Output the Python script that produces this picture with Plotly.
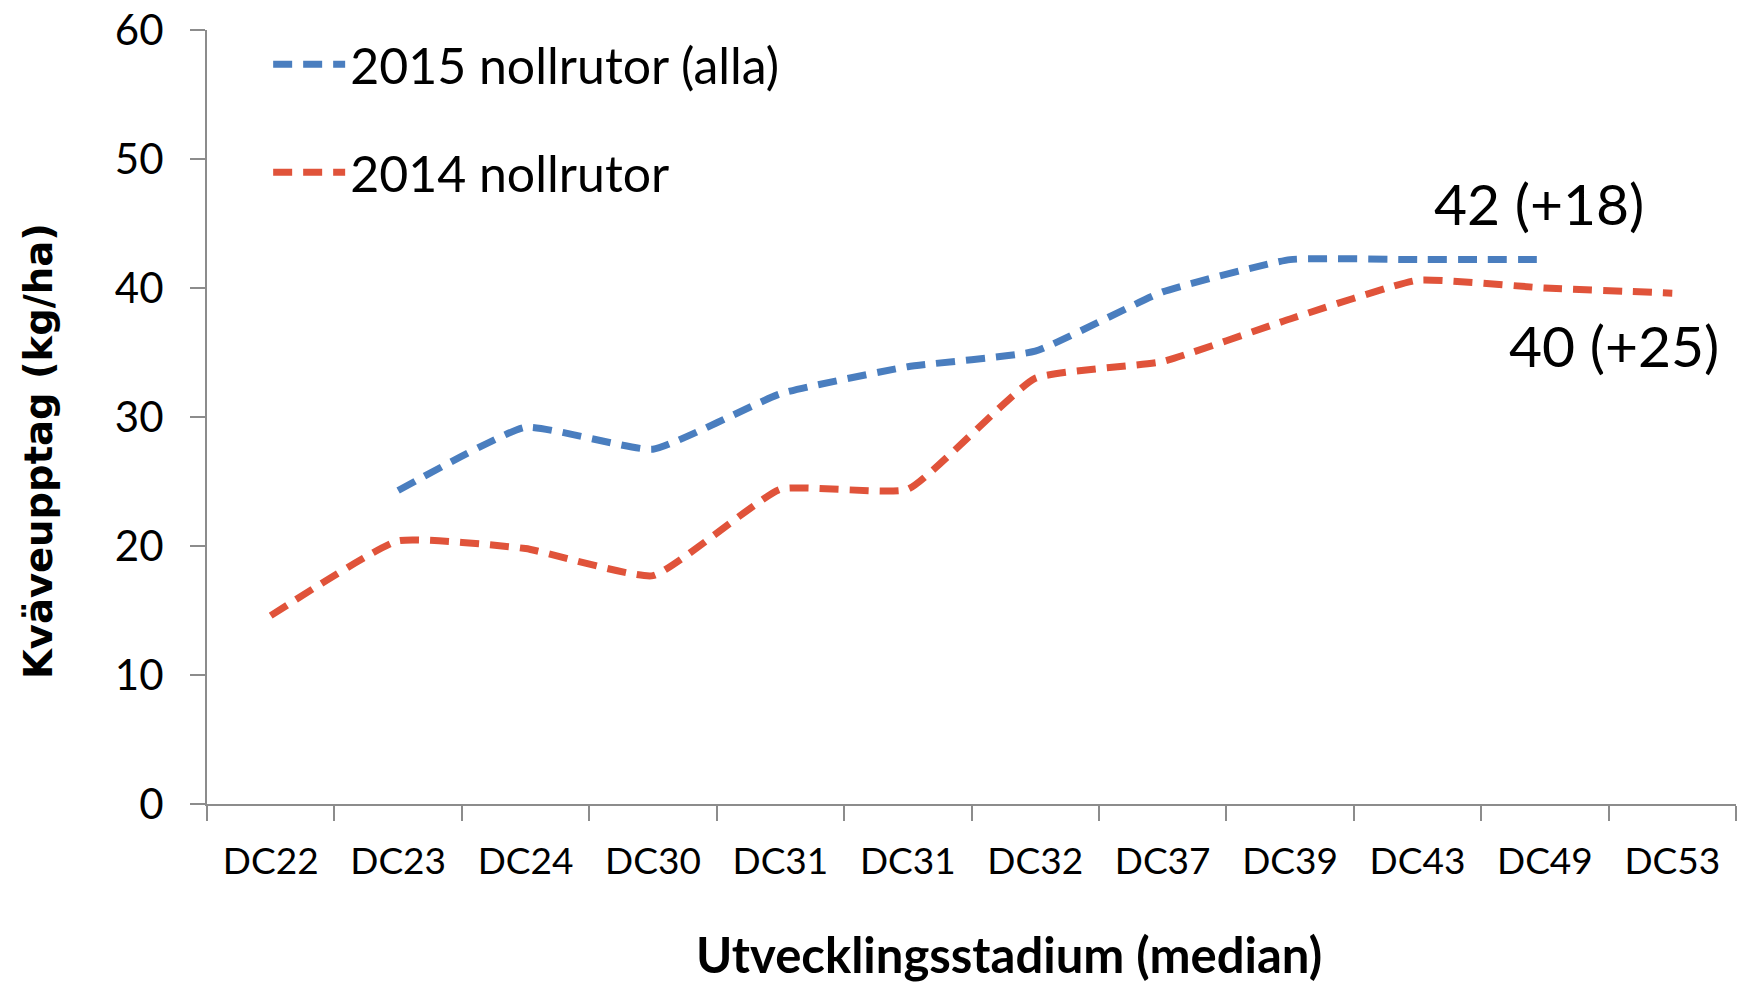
'''
    Kväveupptag per utvecklingsstadium, nollrutor 2014 och 2015.
'''

import plotly.graph_objects as go

stadium = ["DC22", "DC23", "DC24", "DC30", "DC31", "DC31",
           "DC32", "DC37", "DC39", "DC43", "DC49", "DC53"]
upptag_2015 = [None, 24.3, 29.2, 27.5, 31.8, 33.9,
               35.1, 39.7, 42.2, 42.2, 42.2, None]
upptag_2014 = [14.6, 20.4, 19.8, 17.7, 24.4, 24.4,
               33.0, 34.3, 37.6, 40.6, 40.0, 39.6]
y_ticks = [0, 10, 20, 30, 40, 50, 60]

BLUE = "#4A7EBF"
RED = "#E0533A"
AXIS = "#8C8C8C"
FONT = "Lato"

x_pos = list(range(len(stadium)))

L, R, T, B = 207, 22, 30, 179
PW = 1758 - L - R
PH = 983 - T - B

fig = go.Figure()
fig.add_trace(go.Scatter(
    x=x_pos, y=upptag_2015,
    mode="lines",
    name="2015 nollrutor (alla)",
    legendgroup="a",
    line=dict(color=BLUE, width=7, dash="19px,11px",
              shape="spline", smoothing=0.4),
    connectgaps=False,
))
fig.add_trace(go.Scatter(
    x=x_pos, y=upptag_2014,
    mode="lines",
    name="2014 nollrutor",
    legendgroup="b",
    line=dict(color=RED, width=7, dash="19px,11px",
              shape="spline", smoothing=0.4),
))

fig.update_layout(
    width=1758, height=983,
    margin=dict(l=L, r=R, t=T, b=B, autoexpand=False),
    paper_bgcolor="white", plot_bgcolor="white",
    font=dict(family=FONT, color="black"),
    showlegend=True,
    legend=dict(
        x=0.04, y=1.006, xanchor="left", yanchor="top",
        font=dict(size=50, family=FONT),
        bgcolor="rgba(0,0,0,0)",
        tracegroupgap=40,
        traceorder="grouped",
        itemwidth=72,
    ),
)

fig.update_xaxes(
    range=[-0.5, len(stadium) - 0.5],
    tickmode="array", tickvals=x_pos, ticktext=stadium,
    ticks="outside", ticklen=0, tickcolor=AXIS,
    ticklabelstandoff=24,
    tickfont=dict(size=37, family=FONT),
    minor=dict(tick0=-0.5, dtick=1, ticks="outside", ticklen=15,
               tickcolor=AXIS, tickwidth=2, showgrid=False),
    showline=True, linecolor=AXIS, linewidth=2,
    showgrid=False, zeroline=False, automargin=False,
)
fig.update_yaxes(
    range=[0, 60],
    tickmode="array", tickvals=y_ticks,
    ticks="outside", ticklen=15, tickwidth=2, tickcolor=AXIS,
    ticklabelstandoff=18, ticklabeloverflow="allow",
    tickfont=dict(size=42, family=FONT),
    showline=True, linecolor=AXIS, linewidth=2,
    showgrid=False, zeroline=False, automargin=False,
)

# axeltitlar och etiketter
fig.add_annotation(
    text="<b>Kväveupptag (kg/ha)</b>",
    xref="paper", yref="paper",
    x=(38 - L) / PW, y=(983 - B - 451) / PH,
    xanchor="center", yanchor="middle",
    textangle=-90, showarrow=False,
    font=dict(size=38.5, family="DejaVu Sans", color="black"),
)
fig.add_annotation(
    text="<b>Utvecklingsstadium (median)</b>",
    xref="paper", yref="paper",
    x=(1009 - L) / PW, y=-(954 - (983 - B)) / PH,
    xanchor="center", yanchor="middle",
    showarrow=False,
    font=dict(size=49, family=FONT, color="black"),
)
fig.add_annotation(
    text="42 (+18)", xref="x", yref="y",
    x=9.95, y=46.6, showarrow=False,
    font=dict(size=57, family=FONT, color="black"),
)
fig.add_annotation(
    text="40 (+25)", xref="x", yref="y",
    x=10.54, y=35.6, showarrow=False,
    font=dict(size=57, family=FONT, color="black"),
)

# ingen body-marginal, så att figuren fyller fönstret exakt
fig.write_html("out.html",
               config={"displayModeBar": False},
               post_script="document.body.style.margin = '0';")
